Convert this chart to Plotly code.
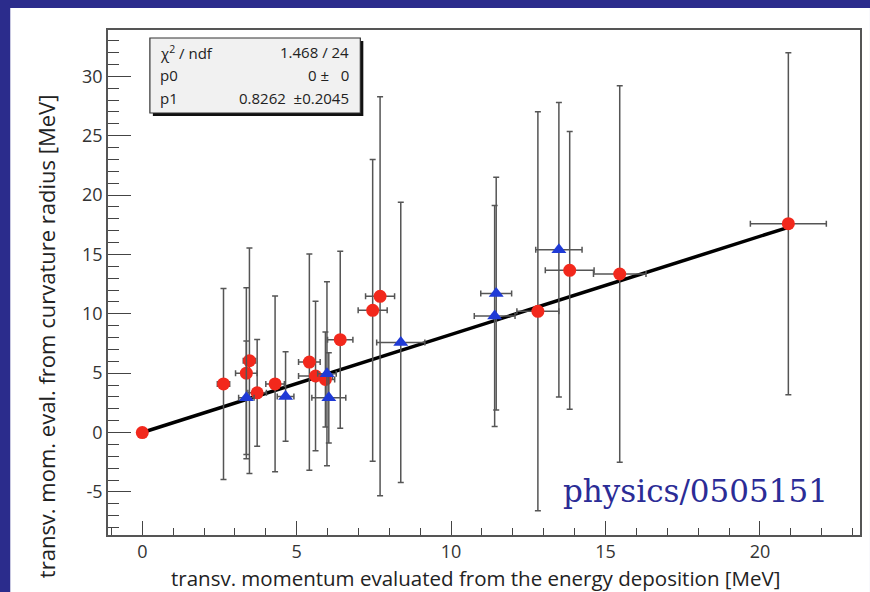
import plotly.graph_objects as go

# ---- data ----
red_x  = [0.0, 2.63, 3.37, 3.47, 3.72, 4.30, 5.41, 5.61, 5.93, 6.41, 7.46, 7.70, 12.81, 13.84, 15.46, 20.92]
red_y  = [0.0, 4.09, 5.00, 6.05, 3.34, 4.09, 5.93, 4.76, 4.47, 7.82, 10.29, 11.47, 10.21, 13.66, 13.35, 17.59]
red_ex = [0.0, 0.20, 0.35, 0.20, 0.30, 0.30, 0.35, 0.55, 0.30, 0.41, 0.47, 0.47, 0.68, 0.79, 0.85, 1.23]
red_ey = [0.0, 8.05, 7.20, 9.50, 4.50, 7.40, 9.10, 6.30, 4.00, 7.45, 12.7, 16.8, 16.8, 11.7, 15.85, 14.4]

blue_x  = [3.37, 4.64, 5.98, 6.04, 8.37, 11.41, 11.46, 13.49]
blue_y  = [2.93, 3.04, 4.95, 2.92, 7.59, 9.81, 11.70, 15.39]
blue_ex = [0.25, 0.27, 0.30, 0.55, 0.78, 0.66, 0.50, 0.75]
blue_ey = [4.77, 3.77, 7.75, 3.80, 11.8, 9.30, 9.80, 12.4]

x_ticks = [0, 5, 10, 15, 20]
x_ticklabels = ["0", "5", "10", "15", "20"]
y_ticks = [-5, 0, 5, 10, 15, 20, 25, 30]
y_ticklabels = ["-5", "0", "5", "10", "15", "20", "25", "30"]

# fit results (pol1 through origin)
chi2, ndf = 1.468, 24
p0, p0_err = 0, 0
p1, p1_err = 0.8262, 0.2045
fit_x = [0.0, max(red_x)]
fit_y = [p0 + p1 * v for v in fit_x]

x_title = "transv. momentum evaluated from the energy deposition [MeV]"
y_title = "transv. mom. eval. from curvature radius [MeV]"
watermark = "physics/0505151"

BLUE_BG = "#2b2c8c"
ERR_COL = "#555555"
FONT = "Open Sans"

fig = go.Figure()

fig.add_trace(go.Scatter(x=fit_x, y=fit_y, mode="lines",
                         line=dict(color="black", width=3.5), hoverinfo="skip"))

fig.add_trace(go.Scatter(
    x=red_x, y=red_y, mode="markers",
    marker=dict(symbol="circle", size=13, color="#f2281c"),
    error_x=dict(type="data", array=red_ex, color=ERR_COL, thickness=1.5, width=3),
    error_y=dict(type="data", array=red_ey, color=ERR_COL, thickness=1.5, width=3),
))
fig.add_trace(go.Scatter(
    x=blue_x, y=blue_y, mode="markers",
    marker=dict(symbol="triangle-up", size=13, color="#1f3ad6"),
    error_x=dict(type="data", array=blue_ex, color=ERR_COL, thickness=1.5, width=3),
    error_y=dict(type="data", array=blue_ey, color=ERR_COL, thickness=1.5, width=3),
))

# paper-coordinate helpers (plot area: x 108..862 px, y 30..535 px)
L, R, T, B = 108, 862, 30, 535
def px(p):
    return (p - L) / (R - L)
def py(p):
    return (B - p) / (B - T)

shapes = [
    # white panel over blue background
    dict(type="rect", xref="paper", yref="paper", x0=px(10), x1=px(872), y0=py(594), y1=py(8),
         fillcolor="white", line=dict(width=0), layer="below"),
    # stats box shadow
    dict(type="rect", xref="paper", yref="paper", x0=px(153), x1=px(364), y0=py(116), y1=py(41),
         fillcolor="#111111", line=dict(width=0), layer="above"),
    # stats box
    dict(type="rect", xref="paper", yref="paper", x0=px(150), x1=px(361), y0=py(113), y1=py(38),
         fillcolor="#f1f1f1", line=dict(color="#333333", width=1.2), layer="above"),
]

stat_font = dict(family=FONT, size=15, color="#222222")
annotations = []
rows = [
    ("χ<sup>2</sup> / ndf", f"{chi2:.3f} / {ndf}", 52),
    ("p0", f"{p0} ±   {p0_err}", 75),
    ("p1", f"{p1:.4f}  ±{p1_err:.4f}", 98),
]
for lab, val, yy in rows:
    annotations.append(dict(xref="paper", yref="paper", x=px(158), y=py(yy), text=lab,
                            showarrow=False, xanchor="left", yanchor="middle", font=stat_font))
    annotations.append(dict(xref="paper", yref="paper", x=px(352), y=py(yy), text=val,
                            showarrow=False, xanchor="right", yanchor="middle", font=stat_font))
annotations.append(dict(xref="paper", yref="paper", x=px(697), y=py(491), text=watermark,
                        showarrow=False, xanchor="center", yanchor="middle",
                        font=dict(family="DejaVu Serif", size=31, color="#2b2c96")))
# axis titles (placed as in the reference)
annotations.append(dict(xref="paper", yref="paper", x=px(476), y=py(578), text=x_title,
                        showarrow=False, xanchor="center", yanchor="middle",
                        font=dict(family=FONT, size=20.5, color="#222")))
annotations.append(dict(xref="paper", yref="paper", x=px(46), y=py(336), text=y_title,
                        textangle=-90, showarrow=False, xanchor="center", yanchor="middle",
                        font=dict(family=FONT, size=22, color="#222")))

tick_font = dict(family=FONT, size=18, color="#333333")
fig.update_layout(
    width=870, height=592,
    margin=dict(l=L, r=870 - R, t=T, b=592 - B),
    paper_bgcolor=BLUE_BG, plot_bgcolor="white",
    showlegend=False,
    shapes=shapes, annotations=annotations,
    xaxis=dict(range=[-1.11, 23.24], tickvals=x_ticks, ticktext=x_ticklabels,
               ticks="inside", ticklen=14, tickwidth=1.3,
               tickcolor="#444", showline=True, mirror=True, linecolor="#555", linewidth=1.6,
               showgrid=False, zeroline=False, tickfont=tick_font,
               minor=dict(dtick=1, tick0=0, ticks="inside", ticklen=7, tickwidth=1.2,
                          tickcolor="#444", showgrid=False)),
    yaxis=dict(range=[-8.63, 33.9], tickvals=y_ticks, ticktext=y_ticklabels,
               ticks="inside", ticklen=23, tickwidth=1.3,
               tickcolor="#444", showline=True, mirror=True, linecolor="#555", linewidth=1.6,
               showgrid=False, zeroline=False, tickfont=tick_font,
               minor=dict(dtick=1, tick0=0, ticks="inside", ticklen=11, tickwidth=1.2,
                          tickcolor="#444", showgrid=False)),
)

fig.write_html("out.html", config={"displayModeBar": False},
               post_script="document.body.style.margin='0';document.body.style.overflow='hidden';")
